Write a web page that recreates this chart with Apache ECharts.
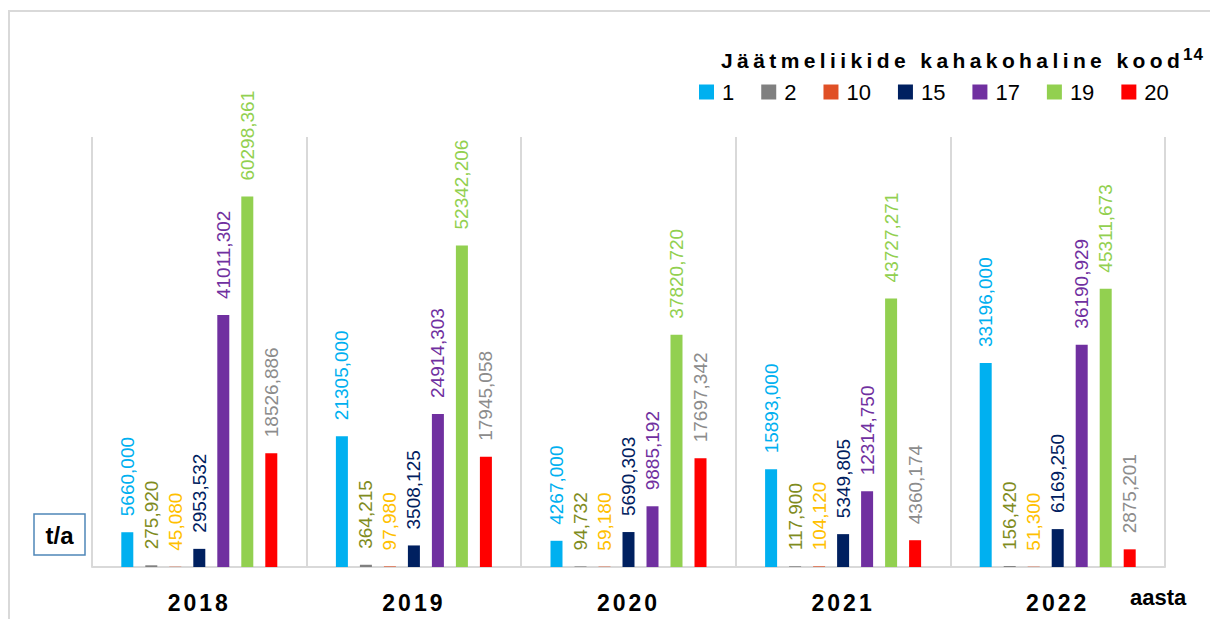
<!DOCTYPE html>
<html><head><meta charset="utf-8">
<script src="https://cdn.jsdelivr.net/npm/echarts@6/dist/echarts.min.js"></script>
<style>html,body{margin:0;padding:0;background:#fff}#c{width:1210px;height:619px}</style>
</head><body><div id="c"></div>
<script>
// ---- data ----
const years = ['2018', '2019', '2020', '2021', '2022'];
const codes = ['1', '2', '10', '15', '17', '19', '20'];
const kood1  = [5660.000, 21305.000, 4267.000, 15893.000, 33196.000];
const kood2  = [275.920, 364.215, 94.732, 117.900, 156.420];
const kood10 = [45.080, 97.980, 59.180, 104.120, 51.300];
const kood15 = [2953.532, 3508.125, 5690.303, 5349.805, 6169.250];
const kood17 = [41011.302, 24914.303, 9885.192, 12314.750, 36190.929];
const kood19 = [60298.361, 52342.206, 37820.720, 43727.271, 45311.673];
const kood20 = [18526.886, 17945.058, 17697.342, 4360.174, 2875.201];
const allValues = [kood1, kood2, kood10, kood15, kood17, kood19, kood20];

// ---- styles ----
const barColors   = ['#00B0F0', '#808080', '#E05026', '#002060', '#7030A0', '#92D050', '#FF0000'];
const labelColors = ['#00B0F0', '#7F8C1E', '#FFC000', '#002060', '#7030A0', '#92D050', '#8C8C8C'];
const FONT = "'Liberation Sans', Arial, sans-serif";

const chart = echarts.init(document.getElementById('c'), null, {renderer: 'svg'});

const series = codes.map((name, i) => ({
  name: name,
  type: 'bar',
  data: allValues[i],
  barWidth: 12,
  barGap: '100%',
  itemStyle: {color: barColors[i]},
  label: {
    show: true,
    position: 'top',
    rotate: 90,
    align: 'left',
    verticalAlign: 'middle',
    distance: 16,
    fontFamily: FONT,
    fontSize: 19,
    color: labelColors[i],
    formatter: p => p.value.toFixed(3).replace('.', ',')
  }
}));

const option = {
  animation: false,
  backgroundColor: '#ffffff',
  grid: {left: 92, right: 45, top: 137, bottom: 52, containLabel: false},
  legend: {
    data: codes,
    left: 699,
    top: 81,
    padding: 0,
    itemWidth: 15,
    itemHeight: 15,
    itemGap: 27,
    icon: 'rect',
    textStyle: {fontFamily: FONT, fontSize: 22, fontWeight: 'normal', color: '#000', lineHeight: 22, padding: [0, 0, 0, 3]}
  },
  xAxis: {
    type: 'category',
    data: years,
    axisTick: {show: false},
    axisLine: {lineStyle: {color: '#D9D9D9', width: 2}},
    splitLine: {show: true, lineStyle: {color: '#D9D9D9', width: 2}},
    axisLabel: {fontFamily: FONT, fontSize: 23, fontWeight: 'bold', color: '#000', margin: 24, lineHeight: 24}
  },
  yAxis: {
    type: 'value',
    min: 0,
    max: 70000,
    show: false,
    splitLine: {show: false}
  },
  graphic: [
    {type: 'rect', shape: {x: 9, y: 11, width: 1260, height: 700}, style: {fill: 'none', stroke: '#D9D9D9', lineWidth: 2}, silent: true, z: -10},
    {type: 'text', x: 721, y: 60, style: {text: 'Jäätmeliikide kahakohaline kood', font: "bold 21px 'Liberation Sans', Arial, sans-serif", fill: '#000', textAlign: 'left', textVerticalAlign: 'middle'}},
    {type: 'text', x: 1183, y: 54, style: {text: '14', font: "bold 17px 'Liberation Sans', Arial, sans-serif", fill: '#000', textAlign: 'left', textVerticalAlign: 'middle'}},
    {type: 'text', x: 1130, y: 597, style: {text: 'aasta', font: "bold 22px 'Liberation Sans', Arial, sans-serif", fill: '#000', textAlign: 'left', textVerticalAlign: 'middle'}},
    {type: 'rect', shape: {x: 34, y: 514, width: 51, height: 41}, style: {fill: '#fff', stroke: '#4F86B8', lineWidth: 1.5}},
    {type: 'text', x: 59.5, y: 535, style: {text: 't/a', font: "bold 24px 'Liberation Sans', Arial, sans-serif", fill: '#000', textAlign: 'center', textVerticalAlign: 'middle'}}
  ],
  series: series
};

chart.setOption(option);

function applySpacing() {
  document.querySelectorAll('#c svg text').forEach(t => {
    const s = t.textContent;
    if (s.indexOf('Jäätmeliikide') === 0) t.setAttribute('letter-spacing', '4.4');
    else if (s === '14') t.setAttribute('letter-spacing', '1');
    else if (years.indexOf(s) >= 0) t.setAttribute('letter-spacing', '3');
  });
}
chart.on('finished', applySpacing);
applySpacing();
setTimeout(applySpacing, 50);
</script>
</body></html>
